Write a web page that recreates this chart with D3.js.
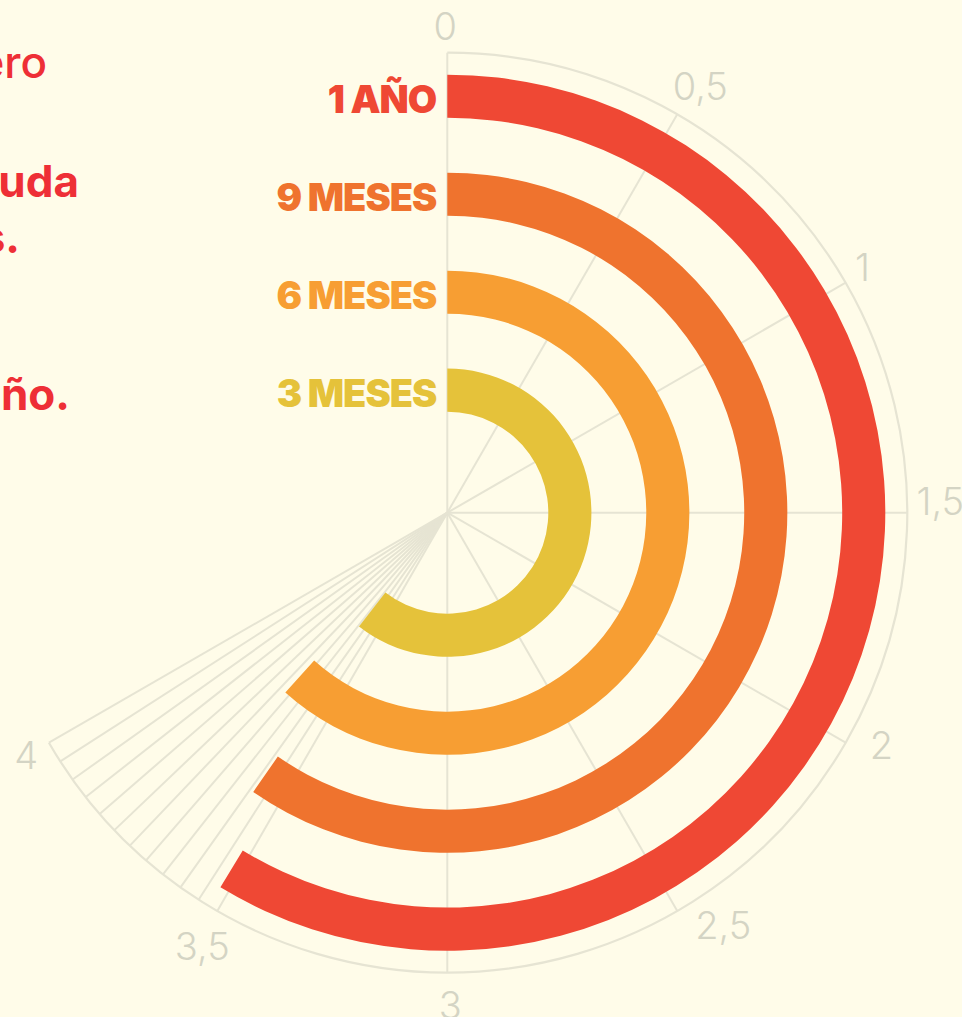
<!DOCTYPE html>
<html>
<head>
<meta charset="utf-8">
<script src="https://cdn.jsdelivr.net/npm/d3@7"></script>
<style>
  html, body { margin: 0; padding: 0; background: #fffce9; overflow: hidden; }
  svg { display: block; }
</style>
</head>
<body>
<div id="chart"></div>
<script>
// periods from the inside out, and how far each bar goes round
var periods = ["3 MESES", "6 MESES", "9 MESES", "1 AÑO"];
var values = [3.63, 3.70, 3.58, 3.52];
var colors = ["#e5c23a", "#f79e33", "#ef732e", "#ef4834"];

var tickValues = [0, 0.5, 1, 1.5, 2, 2.5, 3, 3.5, 4];
var tickLabels = ["0", "0,5", "1", "1,5", "2", "2,5", "3", "3,5", "4"];

// the text on the left, cut by the page edge
var introLines = [
    { text: "Sin dinero", weight: 500, y: 78, end: 47 },
    { text: "la deuda", weight: 700, y: 197, end: 79 },
    { text: "en meses.", weight: 700, y: 253, end: 20 },
    { text: "en un año.", weight: 700, y: 410, end: 70 }
];

var width = 962, height = 1017;
var cx = 447.3, cy = 512.7;
var outerR = 460;

var svg = d3.select("#chart").append("svg")
    .attr("width", width)
    .attr("height", height);

svg.append("rect")
    .attr("width", width)
    .attr("height", height)
    .attr("fill", "#fffce9");

// intro text
svg.selectAll(".intro")
    .data(introLines)
    .enter().append("text")
    .attr("class", "intro")
    .attr("x", function(d) { return d.end; })
    .attr("y", function(d) { return d.y; })
    .attr("text-anchor", "end")
    .attr("font-family", "Inter, 'Noto Sans', sans-serif")
    .attr("font-size", 44)
    .attr("font-weight", function(d) { return d.weight; })
    .attr("fill", "#ee2f36")
    .text(function(d) { return d.text; });

var g = svg.append("g")
    .attr("transform", "translate(" + cx + "," + cy + ")");

// 1 unit = 60 degrees, 0 at the top going clockwise
var angle = d3.scaleLinear()
    .domain([0, 6])
    .range([0, 2 * Math.PI]);

var radius = d3.scaleBand()
    .domain(periods)
    .range([101, 438])
    .paddingInner(0.56)
    .paddingOuter(0);

// grid lines: every half unit up to 3,5, then a dense fan to 4
var gridValues = d3.range(0, 3.5, 0.5)
    .concat(d3.range(12).map(function(i) { return 3.5 + i * 0.5 / 11; }));

g.append("path")
    .attr("d", d3.arc()({
        innerRadius: outerR, outerRadius: outerR,
        startAngle: 0, endAngle: angle(4)
    }))
    .attr("fill", "none")
    .attr("stroke", "#e6e4d3")
    .attr("stroke-width", 2.2);

g.selectAll(".grid")
    .data(gridValues)
    .enter().append("line")
    .attr("class", "grid")
    .attr("x1", 0)
    .attr("y1", 0)
    .attr("x2", function(d) { return outerR * Math.sin(angle(d)); })
    .attr("y2", function(d) { return -outerR * Math.cos(angle(d)); })
    .attr("stroke", "#e6e4d3")
    .attr("stroke-width", 2);

// tick labels, with small hand nudges like the original
var labelR = 492;
var nudge = [[-2, 5], [7, -1], [-11, 0], [1, -12], [8, -14], [30, -14], [3, 0], [1, 7], [5, -4]];
g.selectAll(".tick")
    .data(tickValues)
    .enter().append("text")
    .attr("class", "tick")
    .attr("x", function(d, i) { return labelR * Math.sin(angle(d)) + nudge[i][0]; })
    .attr("y", function(d, i) { return -labelR * Math.cos(angle(d)) + nudge[i][1]; })
    .attr("text-anchor", "middle")
    .attr("dominant-baseline", "central")
    .attr("font-family", "Inter, 'Noto Sans', sans-serif")
    .attr("font-size", 38)
    .attr("font-weight", 300)
    .attr("fill", "#d4d4c4")
    .text(function(d, i) { return tickLabels[i]; });

// bars
var arc = d3.arc()
    .innerRadius(function(d) { return radius(d.period); })
    .outerRadius(function(d) { return radius(d.period) + radius.bandwidth(); })
    .startAngle(0)
    .endAngle(function(d) { return angle(d.value); });

var bars = periods.map(function(p, i) {
    return { period: p, value: values[i], color: colors[i] };
});

g.selectAll(".bar")
    .data(bars)
    .enter().append("path")
    .attr("class", "bar")
    .attr("d", arc)
    .attr("fill", function(d) { return d.color; });

// period labels, right next to where each bar starts
g.selectAll(".label")
    .data(bars)
    .enter().append("text")
    .attr("class", "label")
    .attr("x", -11)
    .attr("y", function(d) { return -(radius(d.period) + radius.bandwidth() / 2) + 16.5; })
    .attr("text-anchor", "end")
    .attr("font-family", "Inter, 'Noto Sans', sans-serif")
    .attr("font-size", 38)
    .attr("font-weight", 900)
    .attr("letter-spacing", "-1px")
    .attr("fill", function(d) { return d.color; })
    .text(function(d) { return d.period; });
</script>
</body>
</html>
